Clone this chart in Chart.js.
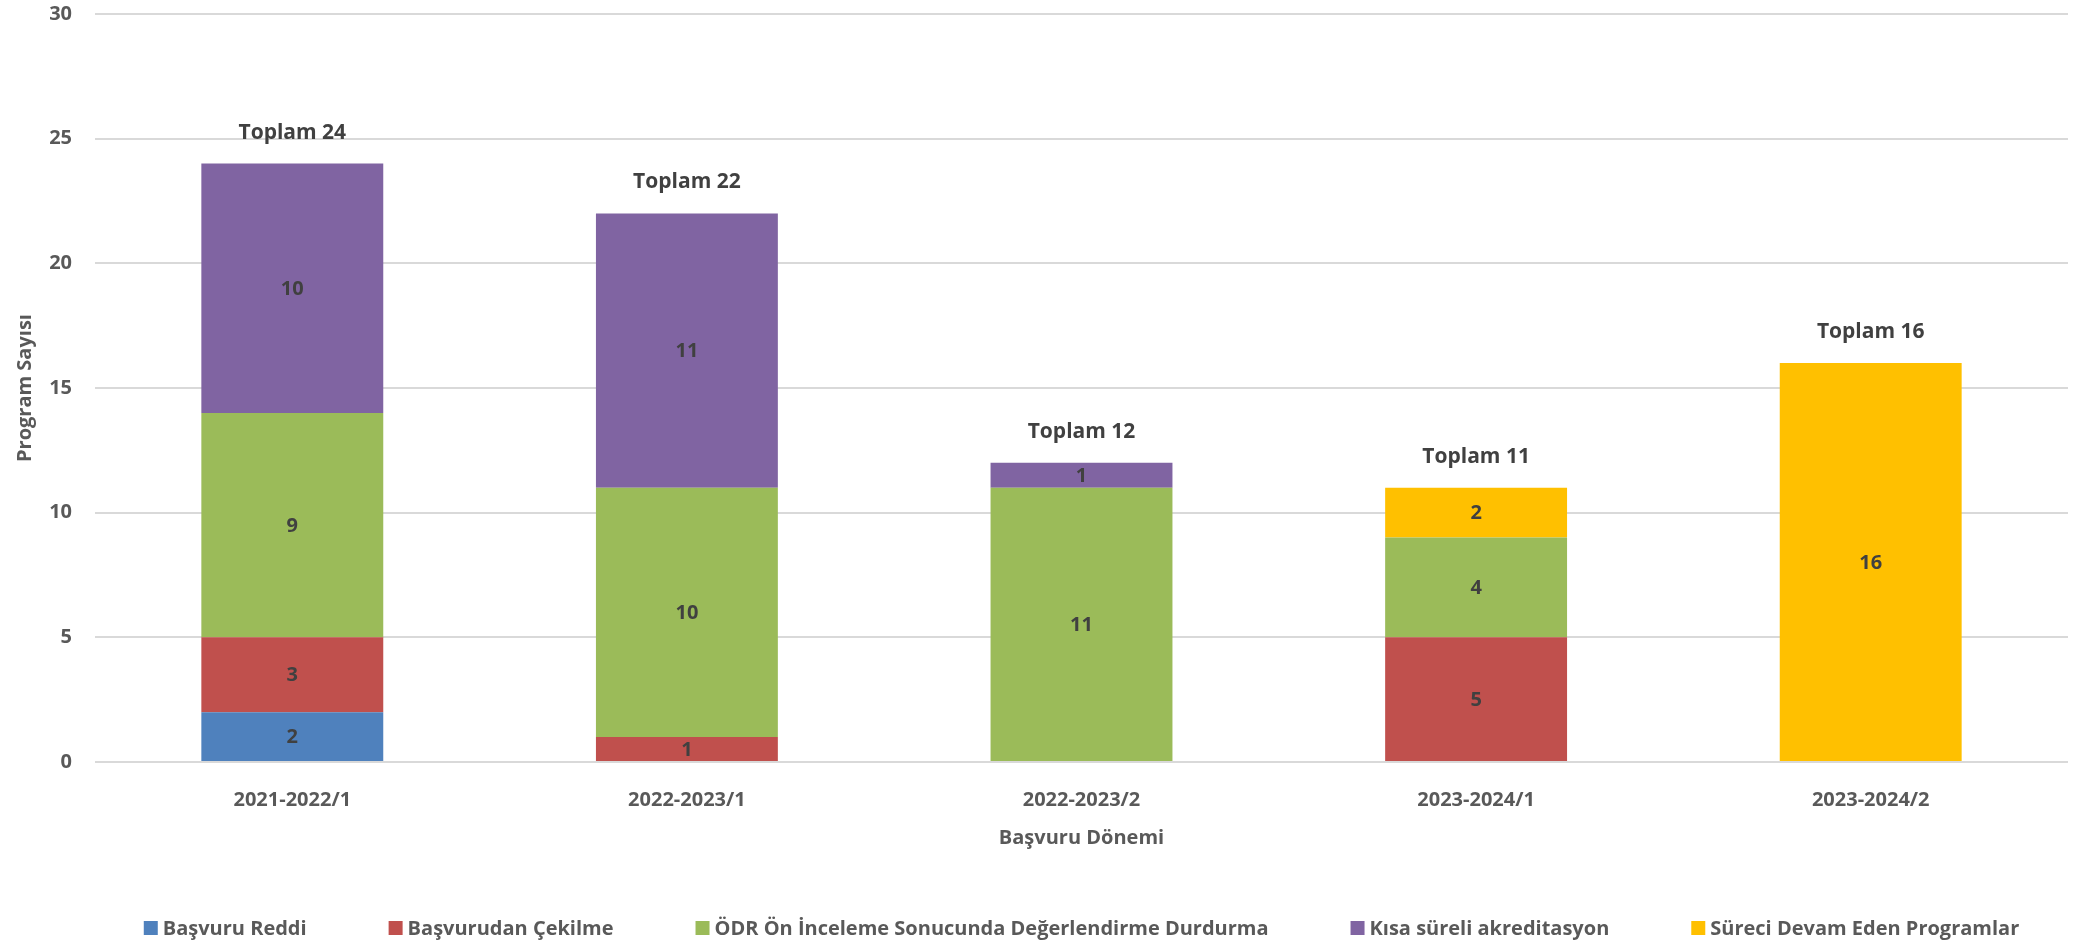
<!DOCTYPE html>
<html>
<head>
<meta charset="utf-8">
<script src="https://cdn.jsdelivr.net/npm/chart.js@4.4.1/dist/chart.umd.min.js"></script>
<style>
html,body{margin:0;padding:0;background:#ffffff;}
#wrap{width:2074px;height:943px;position:relative;}
</style>
</head>
<body>
<div id="wrap"><canvas id="c" width="2074" height="943"></canvas></div>
<script>
// ---- data ----
const categories = ['2021-2022/1', '2022-2023/1', '2022-2023/2', '2023-2024/1', '2023-2024/2'];
const seriesNames = ['Başvuru Reddi', 'Başvurudan Çekilme', 'ÖDR Ön İnceleme Sonucunda Değerlendirme Durdurma', 'Kısa süreli akreditasyon', 'Süreci Devam Eden Programlar'];
const basvuruReddi      = [2, 0, 0, 0, 0];
const basvurudanCekilme = [3, 1, 0, 5, 0];
const odrDurdurma       = [9, 10, 11, 4, 0];
const kisaSureli        = [10, 11, 1, 0, 0];
const surecDevam        = [0, 0, 0, 2, 16];
const yMin = 0, yMax = 30, yStep = 5;
const totalPrefix = 'Toplam';
const yTitle = 'Program Sayısı';
const xTitle = 'Başvuru Dönemi';

const seriesValues = [basvuruReddi, basvurudanCekilme, odrDurdurma, kisaSureli, surecDevam];
const seriesColors = ['#4F81BD', '#C0504D', '#9BBB59', '#8064A2', '#FFC000'];

const FONT = '"Open Sans", "Noto Sans", sans-serif';

const segmentLabels = {
  id: 'segmentLabels',
  afterDatasetsDraw(chart) {
    const ctx = chart.ctx;
    ctx.save();
    ctx.font = 'bold 20px ' + FONT;
    ctx.fillStyle = '#404040';
    ctx.textAlign = 'center';
    ctx.textBaseline = 'middle';
    chart.data.datasets.forEach((ds, di) => {
      const meta = chart.getDatasetMeta(di);
      meta.data.forEach((el, i) => {
        const v = ds.data[i];
        if (!v) return;
        const p = el.getProps(['x', 'y', 'base'], true);
        ctx.fillText(String(v), p.x, (p.y + p.base) / 2 + 1);
      });
    });
    // totals
    ctx.font = 'bold 21px ' + FONT;
    ctx.textBaseline = 'alphabetic';
    const yScale = chart.scales.y, xScale = chart.scales.x;
    chart.data.labels.forEach((lab, i) => {
      let sum = 0;
      chart.data.datasets.forEach(ds => { sum += ds.data[i] || 0; });
      const x = xScale.getPixelForValue(i);
      const y = yScale.getPixelForValue(sum);
      ctx.fillText(totalPrefix + ' ' + sum, x, y - 25);
    });
    ctx.restore();
  }
};

const customLegend = {
  id: 'customLegend',
  afterDraw(chart) {
    const ctx = chart.ctx;
    const ca = chart.chartArea;
    ctx.save();
    ctx.font = 'bold 20px ' + FONT;
    const box = 14, gapBT = 5, gapItems = 82;
    const items = chart.data.datasets.map(d => ({ text: d.label, color: d.backgroundColor, w: ctx.measureText(d.label).width }));
    const total = items.reduce((s, it) => s + box + gapBT + it.w, 0) + gapItems * (items.length - 1);
    let x = (ca.left + ca.right) / 2 - total / 2;
    const cy = chart.height - 15;
    ctx.textBaseline = 'middle';
    ctx.textAlign = 'left';
    items.forEach(it => {
      ctx.fillStyle = it.color;
      ctx.fillRect(x, cy - 7, box, box);
      x += box + gapBT;
      ctx.fillStyle = '#595959';
      ctx.fillText(it.text, x, cy + 1);
      x += it.w + gapItems;
    });
    ctx.restore();
  }
};

function build() {
  const ctx = document.getElementById('c').getContext('2d');
  new Chart(ctx, {
    type: 'bar',
    data: {
      labels: categories,
      datasets: seriesNames.map((name, i) => ({
        label: name,
        data: seriesValues[i],
        backgroundColor: seriesColors[i],
        borderWidth: 0,
        barPercentage: 0.461,
        categoryPercentage: 1.0
      }))
    },
    options: {
      responsive: false,
      animation: false,
      devicePixelRatio: 1,
      layout: { padding: { top: 14, right: 6, left: 0, bottom: 91 } },
      plugins: {
        legend: { display: false },
        tooltip: { enabled: false }
      },
      scales: {
        x: {
          stacked: true,
          grid: { display: false, drawTicks: false },
          border: { display: false },
          ticks: { color: '#595959', font: { family: FONT, size: 20, weight: 'bold' }, padding: 26, maxRotation: 0 },
          title: { display: true, text: xTitle, color: '#595959', font: { family: FONT, size: 20, weight: 'bold' }, padding: { top: 0, bottom: 2 } },
          afterFit(scale) { scale.height = 90; scale.paddingLeft = 0; scale.paddingRight = 0; }
        },
        y: {
          stacked: true,
          min: yMin, max: yMax,
          ticks: { stepSize: yStep, color: '#595959', font: { family: FONT, size: 20, weight: 'bold' }, padding: 23 },
          grid: { color: '#D9D9D9', lineWidth: 2, drawTicks: false },
          border: { display: false },
          title: { display: true, text: yTitle, color: '#595959', font: { family: FONT, size: 20, weight: 'bold' }, padding: { top: 13, bottom: 0 } },
          afterFit(scale) { scale.width = 95; scale.paddingTop = 0; scale.paddingBottom = 0; }
        }
      }
    },
    plugins: [segmentLabels, customLegend]
  });
}

if (document.fonts && document.fonts.load) {
  Promise.all([
    document.fonts.load('bold 20px "Open Sans"'),
    document.fonts.load('bold 21px "Open Sans"')
  ]).then(build, build);
} else {
  build();
}
</script>
</body>
</html>
